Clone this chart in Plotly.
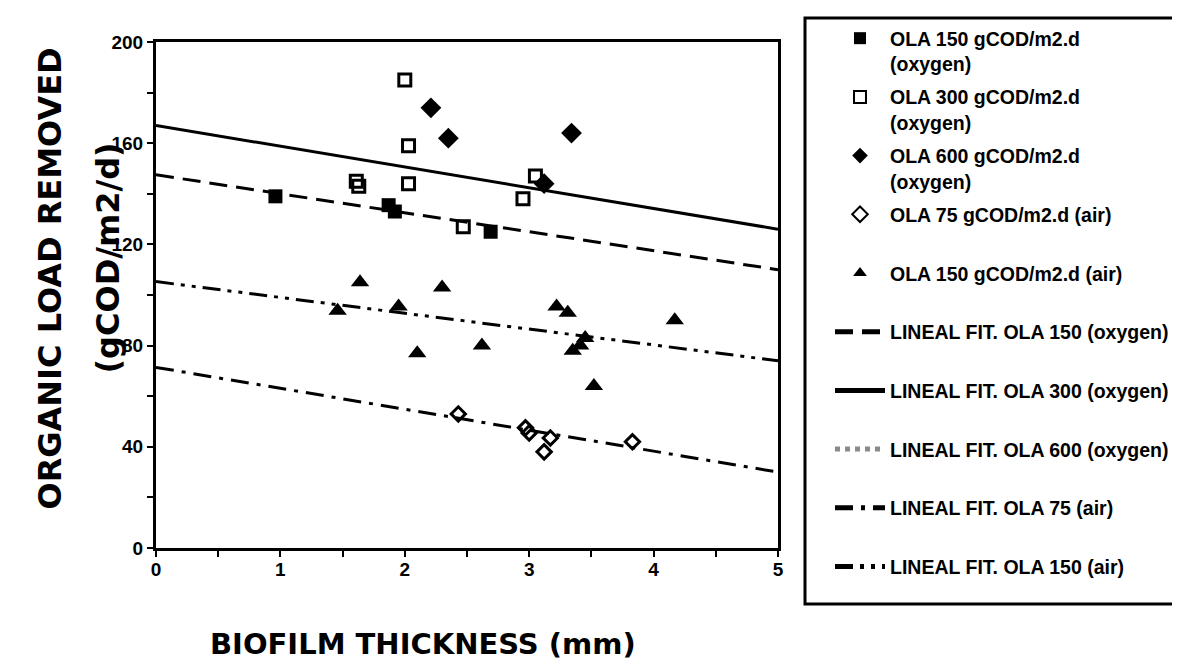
import plotly.graph_objects as go

# ---- data ----
ola150_oxy_x = [0.96, 1.87, 1.92, 2.69]
ola150_oxy_y = [139, 135.5, 133, 125]

ola300_oxy_x = [2.0, 2.03, 2.03, 1.61, 1.63, 2.47, 3.05, 2.95]
ola300_oxy_y = [185, 159, 144, 145, 143, 127, 147, 138]

ola600_oxy_x = [2.21, 2.35, 3.34, 3.12]
ola600_oxy_y = [174, 162, 164, 144]

ola75_air_x = [2.43, 2.97, 3.0, 3.17, 3.12, 3.83]
ola75_air_y = [53, 47.5, 45.5, 43.5, 38, 42]

ola150_air_x = [1.64, 2.3, 1.95, 1.46, 3.22, 3.31, 2.1, 2.62, 3.35, 3.45, 3.41, 3.52, 4.17]
ola150_air_y = [105, 103, 95.5, 93.8, 95.5, 93, 77, 80, 78, 83, 80, 64, 90]

fit_x = [0, 5]
fit150_oxy = [147.5, 110]
fit300_oxy = [167, 126]
fit600_oxy = [None, None]   # not visible in the printed plot (legend only)
fit75_air = [71.4, 30]
fit150_air = [105.3, 74]

x_ticks = [0, 1, 2, 3, 4, 5]
y_ticks = [0, 40, 80, 120, 160, 200]

series_names = [
    "OLA 150 gCOD/m2.d<br>(oxygen)",
    "OLA 300 gCOD/m2.d<br>(oxygen)",
    "OLA 600 gCOD/m2.d<br>(oxygen)",
    "OLA 75 gCOD/m2.d (air)<br>&#160;",
    "OLA 150 gCOD/m2.d (air)<br>&#160;",
    "LINEAL FIT. OLA 150 (oxygen)<br>&#160;",
    "LINEAL FIT. OLA 300 (oxygen)<br>&#160;",
    "LINEAL FIT. OLA 600 (oxygen)<br>&#160;",
    "LINEAL FIT. OLA 75 (air)<br>&#160;",
    "LINEAL FIT. OLA 150 (air)<br>&#160;",
]

BLACK = "black"
FONT = "Liberation Sans"

fig = go.Figure()

def grp(i):
    return dict(legendgroup=f"g{i}")

fig.add_trace(go.Scatter(x=ola150_oxy_x, y=ola150_oxy_y, mode="markers",
    name=series_names[0],
    marker=dict(symbol="square", size=14, color=BLACK), **grp(1)))
fig.add_trace(go.Scatter(x=ola300_oxy_x, y=ola300_oxy_y, mode="markers",
    name=series_names[1],
    marker=dict(symbol="square-open", size=12, color=BLACK, line=dict(width=3)), **grp(2)))
fig.add_trace(go.Scatter(x=ola600_oxy_x, y=ola600_oxy_y, mode="markers",
    name=series_names[2],
    marker=dict(symbol="diamond", size=16, color=BLACK), **grp(3)))
fig.add_trace(go.Scatter(x=ola75_air_x, y=ola75_air_y, mode="markers",
    name=series_names[3],
    marker=dict(symbol="diamond-open", size=11, color=BLACK, line=dict(width=3)), **grp(4)))
fig.add_trace(go.Scatter(x=ola150_air_x, y=ola150_air_y, mode="markers",
    name=series_names[4],
    marker=dict(symbol="triangle-up", size=16, color=BLACK), **grp(5)))

fig.add_trace(go.Scatter(x=fit_x, y=fit150_oxy, mode="lines",
    name=series_names[5],
    line=dict(color=BLACK, width=3, dash="18px,9px"), **grp(6)))
fig.add_trace(go.Scatter(x=fit_x, y=fit300_oxy, mode="lines",
    name=series_names[6],
    line=dict(color=BLACK, width=3, dash="solid"), **grp(7)))
fig.add_trace(go.Scatter(x=fit_x, y=fit600_oxy, mode="lines",
    name=series_names[7], showlegend=True,
    line=dict(color="#8a8a8a", width=1.5, dash="dot"), **grp(8)))
fig.add_trace(go.Scatter(x=fit_x, y=fit75_air, mode="lines",
    name=series_names[8],
    line=dict(color=BLACK, width=3, dash="18px,8px,4px,8px"), **grp(9)))
fig.add_trace(go.Scatter(x=fit_x, y=fit150_air, mode="lines",
    name=series_names[9],
    line=dict(color=BLACK, width=3, dash="18px,7px,4px,7px,4px,7px"), **grp(10)))

L, R, T, B = 148, 410, 33, 128
W, H = 1180, 668
pw, ph = W - L - R, H - T - B

def px(xp):
    return (xp - L) / pw

def py(yp):
    return (H - B - yp) / ph

fig.update_layout(
    width=W, height=H,
    margin=dict(l=L, r=R, t=T, b=B),
    paper_bgcolor="white", plot_bgcolor="white",
    font=dict(family=FONT, color=BLACK),
    showlegend=True,
    legend=dict(x=px(822), y=py(11), xanchor="left", yanchor="top",
                font=dict(family=FONT, size=19.5, color=BLACK, weight="bold"),
                bgcolor="rgba(0,0,0,0)", borderwidth=0,
                tracegroupgap=5, itemsizing="constant", itemwidth=50,
                valign="top", maxheight=1000),
    xaxis=dict(range=[0, 5], tickvals=x_ticks, ticktext=[str(v) for v in x_ticks],
               showgrid=False, zeroline=False,
               showline=True, linecolor=BLACK, linewidth=3, mirror=True,
               ticks="outside", ticklen=6, tickwidth=2, tickcolor=BLACK,
               minor=dict(dtick=0.5, ticks="outside", ticklen=6, tickwidth=2, tickcolor=BLACK),
               ticklabelstandoff=-4,
               tickfont=dict(family=FONT, size=19, color=BLACK, weight="bold")),
    yaxis=dict(range=[0, 200], tickvals=y_ticks, ticktext=[str(v) for v in y_ticks],
               showgrid=False, zeroline=False,
               showline=True, linecolor=BLACK, linewidth=3, mirror=True,
               ticks="outside", ticklen=6, tickwidth=2, tickcolor=BLACK,
               minor=dict(dtick=20, ticks="outside", ticklen=6, tickwidth=2, tickcolor=BLACK),
               tickfont=dict(family=FONT, size=19, color=BLACK, weight="bold")),
)

# legend frame
fig.add_shape(type="rect", xref="paper", yref="paper",
              x0=px(797), x1=px(1177), y0=py(596), y1=py(9),
              line=dict(color=BLACK, width=3), fillcolor="rgba(0,0,0,0)")

# axis titles
fig.add_annotation(text="<b>BIOFILM THICKNESS (mm)</b>", xref="paper", yref="paper",
                   x=px(415), y=py(636), showarrow=False, xanchor="center", yanchor="middle",
                   font=dict(family="DejaVu Sans", size=29, color=BLACK))
fig.add_annotation(text="<b>ORGANIC LOAD REMOVED</b>", xref="paper", yref="paper",
                   x=px(42), y=py(270), showarrow=False, textangle=-90,
                   xanchor="center", yanchor="middle",
                   font=dict(family="DejaVu Sans", size=32, color=BLACK))
fig.add_annotation(text="<b>(gCOD/m2/d)</b>", xref="paper", yref="paper",
                   x=px(100), y=py(250), showarrow=False, textangle=-90,
                   xanchor="center", yanchor="middle",
                   font=dict(family="DejaVu Sans", size=32, color=BLACK))

fig.write_html("out.html")
